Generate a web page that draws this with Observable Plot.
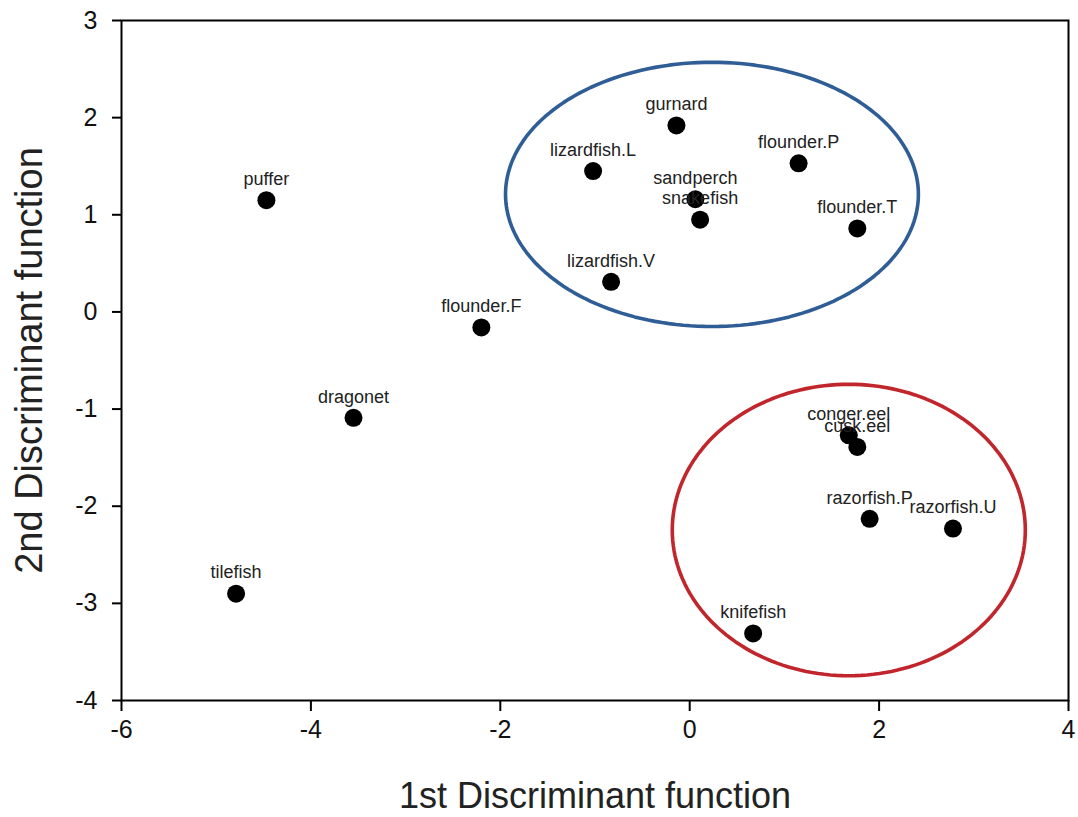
<!DOCTYPE html>
<html>
<head>
<meta charset="utf-8">
<script src="https://cdn.jsdelivr.net/npm/d3@7"></script>
<script src="https://cdn.jsdelivr.net/npm/@observablehq/plot@0.6"></script>
<style>
  html, body { margin: 0; padding: 0; background: #fff; }
  #chart { width: 1078px; height: 817px; }
  svg { font-family: "Liberation Sans", Arial, sans-serif; }
</style>
</head>
<body>
<div id="chart"></div>
<script>
// Species (groups) and their discriminant scores
const names = ["puffer","gurnard","lizardfish.L","flounder.P","sandperch","snakefish","flounder.T","lizardfish.V","flounder.F","dragonet","conger.eel","cusk.eel","razorfish.P","razorfish.U","tilefish","knifefish"];
const ld1 = [-4.47,-0.14,-1.02,1.15,0.06,0.11,1.77,-0.83,-2.20,-3.55,1.68,1.77,1.90,2.78,-4.79,0.67];
const ld2 = [1.15,1.92,1.45,1.53,1.16,0.95,0.86,0.31,-0.16,-1.09,-1.27,-1.39,-2.13,-2.23,-2.90,-3.31];

// Cluster ellipses (centre and semi-axes in data units)
const ellipseCx = [0.235, 1.68];
const ellipseCy = [1.21, -2.245];
const ellipseRx = [2.18, 1.864];
const ellipseRy = [1.36, 1.50];
const ellipseColors = ["#2f5e96", "#c0262b"];

const xTicks = [-6,-4,-2,0,2,4];
const yTicks = [-4,-3,-2,-1,0,1,2,3];

const points = names.map((n,i) => ({name:n, x:ld1[i], y:ld2[i]}));

const ellipseMarks = ellipseCx.map((cx,k) => {
  const pts = d3.range(0, 360, 2).map(a => {
    const t = a * Math.PI / 180;
    return {x: cx + ellipseRx[k]*Math.cos(t), y: ellipseCy[k] + ellipseRy[k]*Math.sin(t)};
  });
  return Plot.line(pts, {x:"x", y:"y", curve:"linear-closed", stroke: ellipseColors[k], strokeWidth: 3.6});
});

const fmt = d => d < 0 ? "-" + Math.abs(d) : String(d);

const chart = Plot.plot({
  width: 1078,
  height: 817,
  marginLeft: 121,
  marginRight: 10,
  marginTop: 20,
  marginBottom: 117,
  style: {fontFamily: '"Liberation Sans", Arial, sans-serif', background: "#fff", color: "#000"},
  x: {domain: [-6, 4], ticks: xTicks, label: null},
  y: {domain: [-4, 3], ticks: yTicks, label: null},
  marks: [
    ...ellipseMarks,
    Plot.frame({stroke: "#000", strokeWidth: 2}),
    Plot.axisX(xTicks, {tickSize: 11, tickPadding: 9, fontSize: 25, strokeWidth: 2, tickFormat: fmt, label: null, fill: "#111"}),
    Plot.axisY(yTicks, {tickSize: 9, tickPadding: 15, fontSize: 25, strokeWidth: 2, tickFormat: fmt, label: null, fill: "#111"}),
    Plot.text(["1st Discriminant function"], {frameAnchor: "bottom", lineAnchor: "middle", dy: 96, fontSize: 36, fill: "#222"}),
    Plot.text(["2nd Discriminant function"], {frameAnchor: "left", textAnchor: "middle", lineAnchor: "middle", dx: -92, rotate: -90, fontSize: 38, fill: "#222"}),
    Plot.dot(points, {x:"x", y:"y", r: 9, fill: "#000"}),
    Plot.text(points, {x:"x", y:"y", text:"name", dy: -21, fontSize: 18, fill: "#222"})
  ]
});
document.getElementById("chart").appendChild(chart);
</script>
</body>
</html>
